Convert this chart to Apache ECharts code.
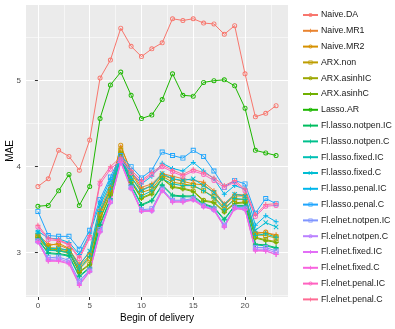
<!DOCTYPE html>
<html>
<head>
<meta charset="utf-8">
<script src="https://cdn.jsdelivr.net/npm/echarts@6/dist/echarts.min.js"></script>
<style>
  html, body { margin: 0; padding: 0; background: #fff; }
  #chart { width: 395px; height: 329px; }
</style>
</head>
<body>
<div id="chart"></div>
<script>
// hours of the day (x)
const hours = [0, 1, 2, 3, 4, 5, 6, 7, 8, 9, 10, 11, 12, 13, 14, 15, 16, 17, 18, 19, 20, 21, 22, 23];
const xLabels = [0, 5, 10, 15, 20];
const yLabels = [3, 4, 5];

// MAE per model
const naiveDA = [3.77, 3.86, 4.19, 4.12, 3.96, 4.31, 5.03, 5.24, 5.61, 5.40, 5.28, 5.37, 5.44, 5.72, 5.70, 5.72, 5.67, 5.66, 5.54, 5.64, 5.08, 4.58, 4.62, 4.71];
const naiveMR1 = [3.21, 3.10, 3.09, 3.04, 2.87, 3.00, 3.50, 3.78, 4.23, 3.95, 3.76, 3.80, 3.92, 3.89, 3.86, 3.84, 3.82, 3.72, 3.57, 3.68, 3.67, 3.24, 3.23, 3.21];
const naiveMR2 = [3.19, 3.08, 3.11, 3.05, 2.84, 2.97, 3.46, 3.74, 4.25, 3.93, 3.73, 3.78, 3.90, 3.86, 3.83, 3.80, 3.79, 3.70, 3.55, 3.66, 3.66, 3.22, 3.24, 3.19];
const arxNon = [3.20, 3.06, 3.05, 3.02, 2.81, 2.93, 3.44, 3.71, 4.19, 3.88, 3.70, 3.74, 3.89, 3.82, 3.80, 3.78, 3.72, 3.65, 3.52, 3.62, 3.62, 3.21, 3.20, 3.17];
const arxAsinhIC = [3.18, 3.05, 3.03, 3.01, 2.78, 2.87, 3.40, 3.68, 4.16, 3.83, 3.64, 3.69, 3.87, 3.77, 3.75, 3.72, 3.61, 3.59, 3.48, 3.58, 3.59, 3.18, 3.15, 3.13];
const arxAsinhC = [3.17, 3.04, 3.02, 3.00, 2.77, 2.86, 3.39, 3.67, 4.14, 3.82, 3.63, 3.68, 3.86, 3.76, 3.74, 3.71, 3.60, 3.58, 3.47, 3.57, 3.58, 3.17, 3.14, 3.12];
const lassoAR = [3.54, 3.55, 3.72, 3.91, 3.55, 3.77, 4.56, 4.95, 5.10, 4.83, 4.56, 4.60, 4.78, 5.08, 4.83, 4.82, 4.98, 5.00, 5.01, 4.94, 4.68, 4.19, 4.16, 4.13];
const lassoNotpenIC = [3.16, 3.00, 2.99, 2.97, 2.73, 2.83, 3.33, 3.63, 4.10, 3.79, 3.56, 3.61, 3.79, 3.67, 3.66, 3.66, 3.57, 3.53, 3.39, 3.55, 3.55, 3.10, 3.09, 3.06];
const lassoNotpenC = [3.15, 2.99, 2.98, 2.96, 2.72, 2.82, 3.32, 3.62, 4.09, 3.78, 3.55, 3.60, 3.78, 3.66, 3.65, 3.65, 3.56, 3.52, 3.38, 3.54, 3.54, 3.09, 3.08, 3.05];
const lassoFixedIC = [3.23, 3.03, 3.02, 3.00, 2.81, 2.96, 3.48, 3.74, 4.10, 3.84, 3.66, 3.72, 3.86, 3.80, 3.78, 3.78, 3.72, 3.64, 3.50, 3.63, 3.62, 3.20, 3.22, 3.18];
const lassoFixedC = [3.24, 3.05, 3.05, 3.03, 2.85, 3.02, 3.55, 3.80, 4.10, 3.88, 3.72, 3.78, 3.92, 3.86, 3.84, 3.86, 3.78, 3.70, 3.56, 3.68, 3.66, 3.26, 3.35, 3.30];
const lassoPenalIC = [3.25, 3.17, 3.16, 3.12, 2.98, 3.22, 3.58, 3.85, 4.09, 3.94, 3.80, 3.89, 4.04, 3.98, 3.95, 4.05, 3.95, 3.86, 3.68, 3.78, 3.74, 3.32, 3.43, 3.36];
const lassoPenalC = [3.48, 3.20, 3.19, 3.19, 3.04, 3.26, 3.62, 3.88, 4.13, 4.00, 3.87, 3.96, 4.17, 4.13, 4.10, 4.19, 4.12, 3.95, 3.76, 3.84, 3.80, 3.46, 3.63, 3.57];
const elnetNotpenIC = [3.14, 2.94, 2.95, 2.91, 2.67, 2.80, 3.27, 3.60, 4.07, 3.76, 3.50, 3.51, 3.74, 3.61, 3.61, 3.63, 3.55, 3.51, 3.32, 3.53, 3.52, 3.06, 3.06, 3.02];
const elnetNotpenC = [3.13, 2.92, 2.93, 2.89, 2.65, 2.79, 3.25, 3.59, 4.06, 3.75, 3.49, 3.49, 3.73, 3.60, 3.60, 3.62, 3.54, 3.50, 3.31, 3.52, 3.51, 3.04, 3.04, 3.00];
const elnetFixedIC = [3.12, 2.91, 2.91, 2.88, 2.63, 2.78, 3.24, 3.58, 4.05, 3.74, 3.48, 3.48, 3.72, 3.59, 3.59, 3.62, 3.54, 3.49, 3.30, 3.52, 3.50, 3.03, 3.02, 2.98];
const elnetFixedC = [3.13, 2.90, 2.90, 2.87, 2.62, 2.78, 3.24, 3.59, 4.05, 3.75, 3.48, 3.49, 3.72, 3.59, 3.59, 3.61, 3.53, 3.50, 3.30, 3.51, 3.50, 3.02, 3.02, 2.98];
const elnetPenalIC = [3.30, 3.15, 3.14, 3.09, 2.93, 3.17, 3.80, 3.97, 4.08, 3.93, 3.82, 3.91, 4.00, 3.94, 3.89, 3.95, 3.91, 3.84, 3.76, 3.82, 3.72, 3.42, 3.54, 3.55];
const elnetPenalC = [3.32, 3.17, 3.15, 3.10, 2.95, 3.20, 3.83, 4.00, 4.11, 3.96, 3.84, 3.93, 4.02, 3.96, 3.91, 3.97, 3.93, 3.87, 3.78, 3.84, 3.74, 3.44, 3.56, 3.57];

// hollow marker shapes (ggplot-like)
const RING = 'path://M0,5a5,5 0 1,0 10,0a5,5 0 1,0 -10,0zM1.8,5a3.2,3.2 0 1,1 6.4,0a3.2,3.2 0 1,1 -6.4,0z';
const SQUARE = 'path://M0,0H10V10H0ZM1.8,1.8V8.2H8.2V1.8Z';
const PLUS = 'path://M4,0H6V4H10V6H6V10H4V6H0V4H4Z';
const CROSS = 'path://M0,1.4L1.4,0L5,3.6L8.6,0L10,1.4L6.4,5L10,8.6L8.6,10L5,6.4L1.4,10L0,8.6L3.6,5Z';

const models = [
    ['Naive.DA', naiveDA, '#F8766D', RING],
    ['Naive.MR1', naiveMR1, '#E98430', PLUS],
    ['Naive.MR2', naiveMR2, '#D69100', RING],
    ['ARX.non', arxNon, '#BD9D00', SQUARE],
    ['ARX.asinhIC', arxAsinhIC, '#9CA700', RING],
    ['ARX.asinhC', arxAsinhC, '#70B000', PLUS],
    ['Lasso.AR', lassoAR, '#1DB700', RING],
    ['Fl.lasso.notpen.IC', lassoNotpenIC, '#00BD5F', PLUS],
    ['Fl.lasso.notpen.C', lassoNotpenC, '#00C08D', PLUS],
    ['Fl.lasso.fixed.IC', lassoFixedIC, '#00C0B4', PLUS],
    ['Fl.lasso.fixed.C', lassoFixedC, '#00BDD2', CROSS],
    ['Fl.lasso.penal.IC', lassoPenalIC, '#00B6EB', PLUS],
    ['Fl.lasso.penal.C', lassoPenalC, '#20A5FD', SQUARE],
    ['Fl.elnet.notpen.IC', elnetNotpenIC, '#7F95FF', SQUARE],
    ['Fl.elnet.notpen.C', elnetNotpenC, '#BA81FF', RING],
    ['Fl.elnet.fixed.IC', elnetFixedIC, '#E26EF6', PLUS],
    ['Fl.elnet.fixed.C', elnetFixedC, '#F863DF', PLUS],
    ['Fl.elnet.penal.IC', elnetPenalIC, '#FF62C0', RING],
    ['Fl.elnet.penal.C', elnetPenalC, '#FF6B94', PLUS]
];

const FONT = 'Liberation Sans';
const X_MIN = -1.15, X_MAX = 24.15;
const Y_MIN = 2.485, Y_MAX = 5.88;

let chart = echarts.init(document.getElementById('chart'));

let series = models.map(function (m) {
    return {
        name: m[0],
        type: 'line',
        xAxisIndex: 0,
        yAxisIndex: 0,
        data: hours.map(function (h, i) { return [h, m[1][i]]; }),
        symbol: m[3],
        symbolSize: 5,
        showSymbol: true,
        itemStyle: { color: m[2] },
        lineStyle: { color: m[2], width: 1 },
        emphasis: { disabled: true }
    };
});

let option = {
    animation: false,
    backgroundColor: '#ffffff',
    textStyle: { fontFamily: FONT },
    grid: {
        left: 26, top: 5, width: 262, height: 292,
        containLabel: false, outerBoundsMode: 'none',
        show: true, backgroundColor: '#EBEBEB', borderWidth: 0
    },
    legend: {
        orient: 'vertical',
        left: 297,
        top: 5,
        itemWidth: 15,
        itemHeight: 5,
        itemGap: 5.8,
        textStyle: { fontSize: 8.8, color: '#1A1A1A', fontFamily: FONT, lineHeight: 10, padding: [0, 0, 0, -2] },
        data: models.map(function (m) { return m[0]; })
    },
    xAxis: [
        {
            type: 'value', min: X_MIN, max: X_MAX,
            axisLine: { show: false },
            axisTick: { show: false, customValues: [0, 2.5, 5, 7.5, 10, 12.5, 15, 17.5, 20, 22.5] },
            axisLabel: { show: false },
            splitLine: { show: true, lineStyle: { color: ['#FFFFFF', '#F6F6F6'], width: 1 } }
        },
        {
            type: 'value', min: X_MIN, max: X_MAX, position: 'bottom',
            axisLine: { show: false },
            axisTick: { show: true, length: 3, customValues: xLabels, lineStyle: { color: '#333333' } },
            axisLabel: { customValues: xLabels, color: '#4D4D4D', fontSize: 8, margin: 5 },
            splitLine: { show: false },
            name: 'Begin of delivery', nameLocation: 'middle', nameGap: 16, nameMoveOverlap: false,
            nameTextStyle: { fontSize: 10, color: '#000000' }
        }
    ],
    yAxis: [
        {
            type: 'value', min: Y_MIN, max: Y_MAX,
            axisLine: { show: false },
            axisTick: { show: false, customValues: [2.5, 3, 3.5, 4, 4.5, 5, 5.5] },
            axisLabel: { show: false },
            splitLine: { show: true, lineStyle: { color: ['#F6F6F6', '#FFFFFF'], width: 1 } }
        },
        {
            type: 'value', min: Y_MIN, max: Y_MAX, position: 'left',
            axisLine: { show: false },
            axisTick: { show: true, length: 3, customValues: yLabels, lineStyle: { color: '#333333' } },
            axisLabel: { customValues: yLabels, color: '#4D4D4D', fontSize: 8, margin: 5 },
            splitLine: { show: false },
            name: 'MAE', nameLocation: 'middle', nameGap: 11, nameRotate: 90, nameMoveOverlap: false,
            nameTextStyle: { fontSize: 10, color: '#000000' }
        }
    ],
    series: series
};

option && chart.setOption(option);
</script>
</body>
</html>
